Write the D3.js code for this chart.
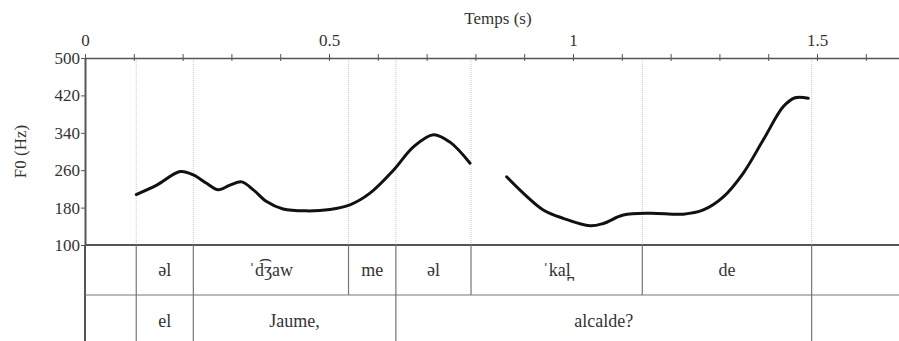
<!DOCTYPE html>
<html>
<head>
<meta charset="utf-8">
<script src="https://cdn.jsdelivr.net/npm/d3@7"></script>
<style>
  body { margin: 0; background: #fff; }
</style>
</head>
<body>
<svg id="svg" width="899" height="341"></svg>
<script>
// pitch contour, two voiced stretches (time s, F0 Hz)
const seg1Time = [0.105, 0.147, 0.195, 0.222, 0.249, 0.273, 0.297, 0.321, 0.345, 0.372, 0.406, 0.454, 0.502, 0.543, 0.584, 0.632, 0.673, 0.714, 0.748, 0.789];
const seg1Hz   = [208, 228, 257, 250, 232, 218, 228, 235, 218, 193, 177, 173, 176, 186, 211, 260, 310, 336, 320, 275];
const seg2Time = [0.864, 0.898, 0.939, 0.980, 1.035, 1.062, 1.103, 1.158, 1.226, 1.267, 1.308, 1.349, 1.390, 1.431, 1.455, 1.482];
const seg2Hz   = [246, 211, 175, 157, 141, 146, 164, 168, 166, 175, 203, 254, 325, 396, 415, 414];

// tier 1 (phones/syllables) and tier 2 (words)
const tier1Bounds = [0.105, 0.222, 0.540, 0.637, 0.791, 1.142, 1.489];
const tier1Labels = ['əl', 'ˈd͡ʒaw', 'me', 'əl', 'ˈkal̪', 'de'];
const tier2Bounds = [0.105, 0.222, 0.637, 1.489];
const tier2Labels = ['el', 'Jaume,', 'alcalde?'];

const yTicks = [100, 180, 260, 340, 420, 500];
const xLabelTicks = [0, 0.5, 1, 1.5];

const FONT = 'Liberation Serif';
const margin = { top: 58, left: 85 };
const width = 899;
const plotBottom = 245;
const tierSep = 295;
const height = 341;

const svg = d3.select('#svg');

const x = d3.scaleLinear().domain([0, 1.668]).range([margin.left, width]);
const y = d3.scaleLinear().domain([100, 500]).range([plotBottom, margin.top]);

// light boundary guides in the pitch area
svg.append('g')
  .selectAll('line')
  .data(tier1Bounds)
  .join('line')
  .attr('x1', d => x(d)).attr('x2', d => x(d))
  .attr('y1', margin.top).attr('y2', plotBottom)
  .attr('stroke', '#c8c8c8')
  .attr('stroke-width', 1)
  .attr('stroke-dasharray', '1,1');

// top time axis
const xTicks = d3.range(0, 17).map(i => i / 10);
const xAxis = d3.axisTop(x)
  .tickValues(xTicks)
  .tickSize(4)
  .tickSizeOuter(0)
  .tickPadding(8)
  .tickFormat(d => xLabelTicks.some(v => Math.abs(v - d) < 1e-6) ? String(+d.toFixed(1)) : '');
const gx = svg.append('g')
  .attr('transform', 'translate(0,' + margin.top + ')')
  .call(xAxis)
  .attr('font-family', FONT)
  .attr('font-size', 17);
gx.select('.domain').attr('stroke', '#555').attr('stroke-width', 1.5);
gx.selectAll('.tick line').attr('stroke', '#555').attr('y2', 3).attr('y1', -4);
gx.selectAll('.tick text').attr('fill', '#333');

svg.append('text')
  .attr('x', 498)
  .attr('y', 24)
  .attr('text-anchor', 'middle')
  .attr('fill', '#333')
  .attr('font-family', FONT)
  .attr('font-size', 17)
  .text('Temps (s)');

// left F0 axis
const yAxis = d3.axisLeft(y)
  .tickValues(yTicks)
  .tickSize(4)
  .tickSizeOuter(0)
  .tickPadding(1);
const gy = svg.append('g')
  .attr('transform', 'translate(' + margin.left + ',0)')
  .call(yAxis)
  .attr('font-family', FONT)
  .attr('font-size', 17);
gy.select('.domain').attr('stroke', '#555').attr('stroke-width', 2);
gy.selectAll('.tick line').attr('stroke', '#555');
gy.selectAll('.tick text').attr('fill', '#333');

svg.append('text')
  .attr('transform', 'translate(26,' + (margin.top + plotBottom) / 2 + ') rotate(-90)')
  .attr('text-anchor', 'middle')
  .attr('fill', '#333')
  .attr('font-family', FONT)
  .attr('font-size', 17)
  .text('F0 (Hz)');

// tier frame
svg.append('line')
  .attr('x1', margin.left).attr('x2', margin.left)
  .attr('y1', plotBottom).attr('y2', height)
  .attr('stroke', '#555').attr('stroke-width', 2);
svg.append('line')
  .attr('x1', margin.left).attr('x2', width)
  .attr('y1', plotBottom).attr('y2', plotBottom)
  .attr('stroke', '#555').attr('stroke-width', 2);
svg.append('line')
  .attr('x1', margin.left).attr('x2', width)
  .attr('y1', tierSep).attr('y2', tierSep)
  .attr('stroke', '#777').attr('stroke-width', 1.2);

function drawTier(bounds, labels, y0, y1) {
  const g = svg.append('g');
  g.selectAll('line')
    .data(bounds)
    .join('line')
    .attr('x1', d => x(d)).attr('x2', d => x(d))
    .attr('y1', y0).attr('y2', y1)
    .attr('stroke', '#777')
    .attr('stroke-width', 1.2);
  g.selectAll('text')
    .data(labels)
    .join('text')
    .attr('x', (d, i) => (x(bounds[i]) + x(bounds[i + 1])) / 2)
    .attr('y', (y0 + y1) / 2)
    .attr('dy', '0.35em')
    .attr('text-anchor', 'middle')
    .attr('fill', '#333')
    .attr('font-family', FONT)
    .attr('font-size', 18)
    .text(d => d);
}
drawTier(tier1Bounds, tier1Labels, plotBottom, tierSep);
drawTier(tier2Bounds, tier2Labels, tierSep, height + 6);

// F0 contour
const line = d3.line()
  .x(d => x(d[0]))
  .y(d => y(d[1]))
  .curve(d3.curveCatmullRom.alpha(0.5));

[[seg1Time, seg1Hz], [seg2Time, seg2Hz]].forEach(([t, hz]) => {
  svg.append('path')
    .datum(t.map((v, i) => [v, hz[i]]))
    .attr('d', line)
    .attr('fill', 'none')
    .attr('stroke', '#111')
    .attr('stroke-width', 3)
    .attr('stroke-linecap', 'round');
});
</script>
</body>
</html>
